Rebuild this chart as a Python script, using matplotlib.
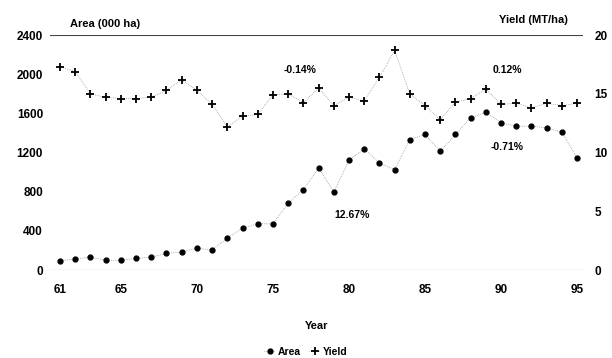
import numpy as np
import matplotlib
matplotlib.use('Agg')
import matplotlib.pyplot as plt

plt.rcParams['font.family'] = ['Liberation Sans', 'DejaVu Sans']
plt.rcParams['font.size'] = 8.5
plt.rcParams['font.weight'] = 'bold'
plt.rcParams['axes.labelweight'] = 'bold'

years = list(range(61, 96))
area = [95, 113, 130, 100, 100, 120, 130, 171, 182, 223,
        205, 325, 428, 472, 472, 684, 820, 1043, 797, 1121,
        1238, 1094, 1026, 1333, 1385, 1213, 1385, 1556, 1610, 1504,
        1470, 1470, 1453, 1408, 1146]
yld = [17.3, 16.9, 15.0, 14.7, 14.6, 14.6, 14.7, 15.3, 16.2, 15.3,
       14.1, 12.2, 13.1, 13.25, 14.9, 15.0, 14.25, 15.5, 14.0, 14.7,
       14.4, 16.4, 18.7, 15.0, 14.0, 12.8, 14.3, 14.6, 15.4, 14.1,
       14.2, 13.8, 14.2, 14.0, 14.2]
xticks = [61, 65, 70, 75, 80, 85, 90, 95]
area_ticks = [0, 400, 800, 1200, 1600, 2000, 2400]
yield_ticks = [0, 5, 10, 15, 20]
# growth rate labels: text, year, area-axis level
notes = [('-0.14%', 76.8, 2040), ('0.12%', 90.4, 2040),
         ('-0.71%', 90.4, 1262), ('12.67%', 80.2, 564)]

fig = plt.figure(figsize=(6.12, 3.58), dpi=100)
ax = fig.add_axes([0.0817, 0.2458, 0.871, 0.656])
ax2 = ax.twinx()

l1, = ax.plot(years, area, color='#777777', lw=0.5, ls=':', marker='o', ms=3.5,
              mfc='black', mec='black', label='Area')
l2, = ax2.plot(years, yld, color='#777777', lw=0.5, ls=':', marker='+', ms=6,
               mew=1.3, mec='black', label='Yield')

ax.set_xlim(60.34, 95.39)
ax.set_ylim(0, 2400)
ax2.set_ylim(0, 20)
ax.set_xticks(xticks)
ax.set_yticks(area_ticks)
ax2.set_yticks(yield_ticks)
ax.tick_params(length=0, pad=5)
ax2.tick_params(length=0, pad=8)
ax.tick_params(axis='x', pad=10)

for a in (ax, ax2):
    for s in a.spines.values():
        s.set_visible(False)
ax.axhline(2400, color='#444444', lw=0.8)
ax.axhline(0, color='#444444', lw=0.8)

for txt, xx, yy in notes:
    ax.text(xx, yy, txt, ha='center', va='center', fontsize=7.5)

fig.text(0.172, 0.933, 'Area (000 ha)', ha='center', va='center', fontsize=8)
fig.text(0.871, 0.944, 'Yield (MT/ha)', ha='center', va='center', fontsize=8)
ax.set_xlabel('Year', labelpad=18, fontsize=8)

fig.legend(handles=[l1, l2], loc='center', bbox_to_anchor=(0.5, 0.017),
           ncol=2, frameon=False, handlelength=1.0, handletextpad=0.3,
           columnspacing=0.8, fontsize=7.5)

fig.savefig('out.png', dpi=100)
